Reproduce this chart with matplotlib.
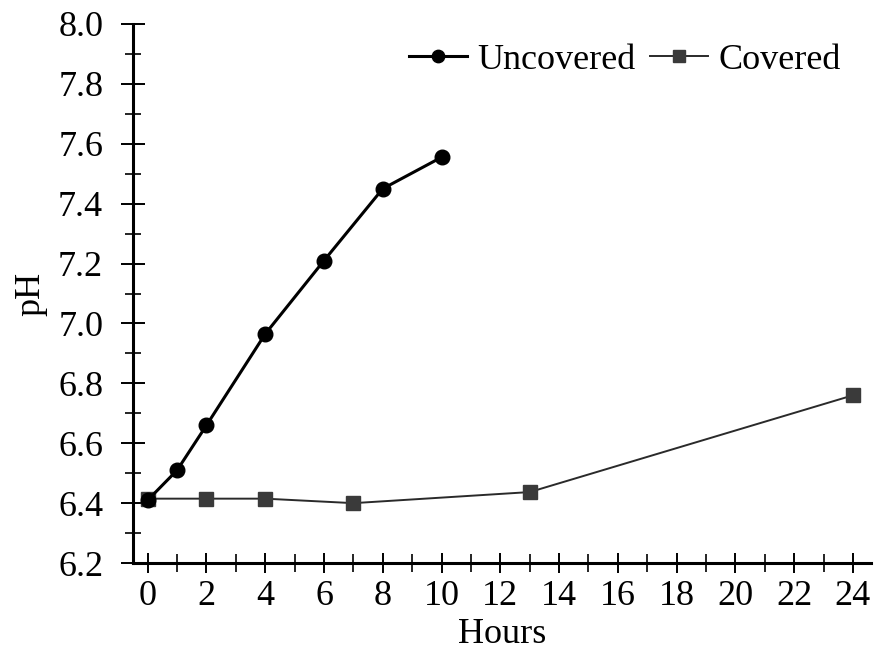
import matplotlib
matplotlib.use('Agg')
import matplotlib.pyplot as plt
from matplotlib.ticker import MultipleLocator

plt.rcParams['font.family'] = ['Liberation Serif', 'DejaVu Serif']

# pH ao longo do tempo
horas_desc = [0, 1, 2, 4, 6, 8, 10]
ph_desc = [6.41, 6.51, 6.66, 6.965, 7.21, 7.45, 7.555]

horas_cob = [0, 2, 4, 7, 13, 24]
ph_cob = [6.415, 6.415, 6.415, 6.40, 6.437, 6.76]

fig = plt.figure(figsize=(8.78, 6.57), dpi=100)
ax = fig.add_axes([0.1515, 0.143, 0.84, 0.8205])

ax.plot(horas_desc, ph_desc, color='black', lw=2.2, marker='o', ms=10.5,
        label='Uncovered', zorder=3)
ax.plot(horas_cob, ph_cob, color='#2a2a2a', lw=1.4, marker='s', ms=10.5,
        mfc='#3a3a3a', mec='#3a3a3a', label='Covered', zorder=2)

ax.set_xlim(-0.5, 24.6)
ax.set_ylim(6.2, 8.0)
ax.xaxis.set_major_locator(MultipleLocator(2))
ax.xaxis.set_minor_locator(MultipleLocator(1))
ax.yaxis.set_major_locator(MultipleLocator(0.2))
ax.yaxis.set_minor_locator(MultipleLocator(0.1))
ax.yaxis.set_major_formatter(plt.FormatStrFormatter('%.1f'))

for s in ['top', 'right']:
    ax.spines[s].set_visible(False)
for s in ['left', 'bottom']:
    ax.spines[s].set_linewidth(2.2)

ax.tick_params(axis='both', which='major', labelsize=26, direction='inout', width=1.4)
ax.tick_params(axis='x', which='major', length=14, pad=5)
ax.tick_params(axis='x', which='minor', direction='inout', length=13, width=1.2)
ax.tick_params(axis='y', which='major', length=17, pad=13)
ax.tick_params(axis='y', which='minor', direction='inout', length=11.5, width=1.2)

ax.set_xlabel('Hours', fontsize=26, labelpad=4)
ax.set_ylabel('pH', fontsize=26, labelpad=8)

ax.legend(loc='upper right', ncol=2, frameon=False, fontsize=26,
          handlelength=1.6, handletextpad=0.3, columnspacing=0.4,
          borderaxespad=0.0, bbox_to_anchor=(0.98, 0.99), markerscale=0.85)

fig.savefig('out.png', dpi=100)
